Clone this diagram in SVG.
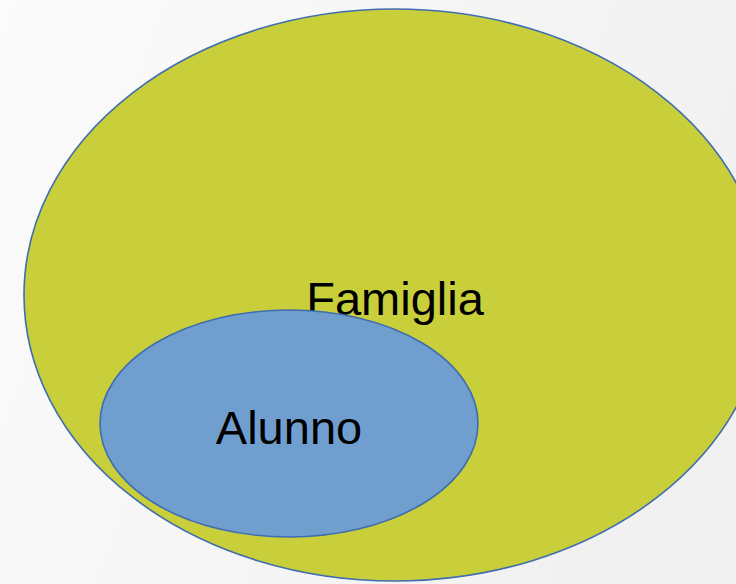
<svg xmlns="http://www.w3.org/2000/svg" width="736" height="584" viewBox="0 0 736 584">
<style>
.set{stroke:#3F6DB0;stroke-width:1.6}
.lbl{font-family:"Liberation Sans",Arial,sans-serif;font-size:47px;fill:#000;text-anchor:middle}
</style>
<defs>
<linearGradient id="bg" x1="0" y1="0" x2="1" y2="0.3">
<stop offset="0" stop-color="#fbfbfb"/>
<stop offset="1" stop-color="#f1f1f1"/>
</linearGradient>
</defs>
<rect width="736" height="584" fill="url(#bg)"/>
<g id="famiglia">
<ellipse class="set" cx="395" cy="295" rx="371" ry="286" fill="#C9CF3A"/>
<text class="lbl" x="395" y="315">Famiglia</text>
</g>
<g id="alunno">
<ellipse class="set" cx="289" cy="423.5" rx="189" ry="113.5" fill="#709FCF"/>
<text class="lbl" x="289" y="444">Alunno</text>
</g>
<g id="connectors"/>
</svg>
